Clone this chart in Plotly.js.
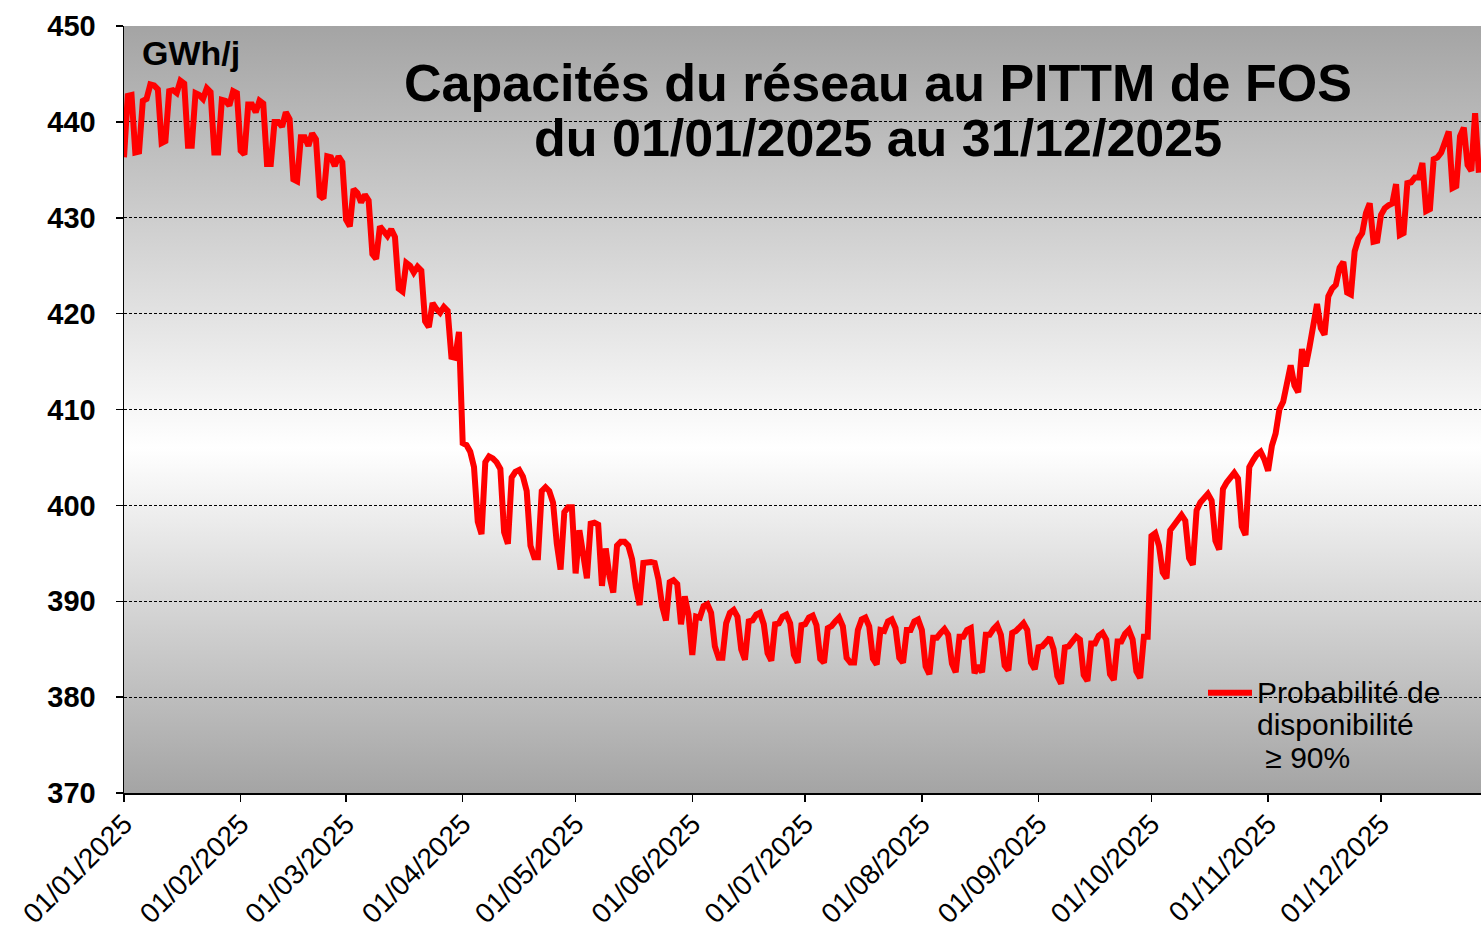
<!DOCTYPE html>
<html>
<head>
<meta charset="utf-8">
<script src="https://cdn.plot.ly/plotly-3.0.1.min.js"></script>
<style>
  html, body { margin: 0; padding: 0; background: #ffffff; }
  #chart { width: 1481px; height: 930px; }
</style>
</head>
<body>
<div id="chart"></div>
<script>
// Daily network capacity (GWh/j)
const jan = [436.3, 442.7, 442.8, 436.8, 436.9, 442.2, 442.4, 443.9, 443.8, 443.4, 437.8, 438.0, 443.2, 443.3, 443.0, 444.3, 444.0, 437.5, 437.5, 443.0, 442.8, 442.4, 443.5, 443.1, 436.8, 436.8, 442.3, 442.2, 441.7, 443.2, 443.0];
const feb = [437.0, 436.6, 441.8, 441.8, 441.0, 442.2, 441.9, 435.6, 435.6, 440.0, 440.0, 439.5, 441.0, 440.3, 434.0, 433.8, 438.4, 438.4, 437.5, 438.8, 438.2, 432.3, 432.0, 436.4, 436.3, 435.4, 436.4, 435.8];
const mar = [429.8, 429.1, 433.0, 432.6, 431.6, 432.4, 431.8, 426.2, 425.7, 429.1, 428.7, 428.1, 428.8, 428.0, 422.6, 422.3, 425.3, 425.0, 424.3, 424.9, 424.5, 419.2, 418.6, 421.1, 420.5, 420.1, 420.7, 420.3, 415.5, 415.4, 418.1];
const apr = [406.5, 406.3, 405.6, 404.0, 398.3, 397.0, 404.5, 405.1, 404.9, 404.5, 403.8, 397.2, 396.0, 402.9, 403.5, 403.7, 403.0, 401.5, 395.8, 394.6, 394.6, 401.5, 401.9, 401.5, 400.3, 396.0, 393.3, 399.3, 399.8, 399.8];
const may = [392.9, 397.4, 394.8, 392.4, 398.1, 398.2, 398.0, 391.6, 395.5, 392.6, 390.9, 395.8, 396.2, 396.2, 395.8, 394.4, 391.5, 389.6, 394.0, 394.1, 394.1, 394.0, 392.3, 389.5, 388.0, 392.0, 392.2, 391.8, 387.6, 390.5, 388.6];
const jun = [384.4, 388.4, 388.3, 389.5, 389.7, 388.8, 385.3, 384.1, 384.1, 387.7, 388.8, 389.1, 388.4, 385.0, 383.9, 387.9, 388.0, 388.6, 388.8, 387.6, 384.6, 383.8, 387.6, 387.7, 388.4, 388.6, 387.7, 384.4, 383.6, 387.5];
const jul = [387.6, 388.3, 388.5, 387.5, 384.0, 383.6, 387.2, 387.4, 387.9, 388.3, 387.4, 384.1, 383.6, 383.6, 387.0, 388.1, 388.3, 387.4, 384.0, 383.4, 387.0, 386.9, 387.9, 388.1, 387.2, 384.1, 383.6, 387.0, 387.0, 387.9, 388.1];
const aug = [387.0, 383.2, 382.4, 386.2, 386.2, 386.7, 387.1, 386.5, 383.5, 382.6, 386.3, 386.3, 387.0, 387.2, 382.5, 383.3, 382.6, 386.5, 386.5, 387.1, 387.5, 386.5, 383.3, 382.8, 386.7, 386.9, 387.4, 387.7, 387.0, 383.6, 382.9];
const sep = [385.2, 385.3, 385.8, 386.2, 385.0, 382.2, 381.4, 385.2, 385.3, 385.9, 386.3, 386.0, 382.3, 381.7, 385.6, 385.6, 386.4, 386.7, 386.0, 382.4, 381.8, 385.8, 385.8, 386.6, 387.0, 386.0, 382.7, 382.0, 386.3, 386.3];
const oct = [396.8, 397.1, 395.8, 393.0, 392.4, 397.4, 397.9, 398.5, 399.0, 398.4, 394.5, 393.8, 399.5, 400.3, 400.8, 401.2, 400.5, 396.3, 395.4, 401.7, 402.4, 403.0, 403.4, 402.8, 397.8, 396.9, 404.0, 404.7, 405.3, 405.6, 404.8];
const nov = [403.6, 406.2, 407.5, 410.0, 410.8, 413.0, 414.6, 412.5, 411.8, 416.3, 414.5, 416.5, 419.0, 421.0, 418.5, 417.8, 421.8, 422.6, 423.0, 424.8, 425.4, 422.2, 422.0, 426.5, 427.8, 428.4, 430.5, 431.5, 427.5, 427.6];
const dec = [430.3, 431.0, 431.3, 431.5, 433.5, 428.2, 428.4, 433.6, 433.7, 434.2, 434.2, 435.7, 430.7, 430.9, 436.1, 436.3, 436.8, 437.8, 439.0, 433.1, 433.3, 438.5, 439.4, 435.5, 434.9, 440.9, 434.7];

const months = [jan, feb, mar, apr, may, jun, jul, aug, sep, oct, nov, dec];
const monthTicks = ['2025-01-01','2025-02-01','2025-03-01','2025-04-01','2025-05-01','2025-06-01','2025-07-01','2025-08-01','2025-09-01','2025-10-01','2025-11-01','2025-12-01'];
const monthTickText = ['01/01/2025','01/02/2025','01/03/2025','01/04/2025','01/05/2025','01/06/2025','01/07/2025','01/08/2025','01/09/2025','01/10/2025','01/11/2025','01/12/2025'];
const yTicks = [370, 380, 390, 400, 410, 420, 430, 440, 450];

const legendLines = ['Probabilité de', 'disponibilité', '\u00a0≥ 90%'];
const titleLine1 = 'Capacités du réseau au PITTM de FOS';
const titleLine2 = 'du 01/01/2025 au 31/12/2025';
const unitLabel = 'GWh/j';

// Build daily dates from the monthly arrays
const dates = [];
const values = [];
months.forEach((arr, m) => {
  arr.forEach((v, i) => {
    const mm = String(m + 1).padStart(2, '0');
    const dd = String(i + 1).padStart(2, '0');
    dates.push('2025-' + mm + '-' + dd);
    values.push(v);
  });
});

const FONT = 'Liberation Sans, Arial, Helvetica, sans-serif';

const gradSvg = "<svg xmlns='http://www.w3.org/2000/svg' width='100' height='100' preserveAspectRatio='none'>" +
  "<defs><linearGradient id='g' x1='0' y1='0' x2='0' y2='1'>" +
  "<stop offset='0' stop-color='#a4a4a4'/>" +
  "<stop offset='0.55' stop-color='#ffffff'/>" +
  "<stop offset='1' stop-color='#a4a4a4'/>" +
  "</linearGradient></defs><rect width='100' height='100' fill='url(#g)'/></svg>";

const trace = {
  type: 'scatter',
  mode: 'lines',
  x: dates,
  y: values,
  name: legendLines.map(s => '<span style="font-size:30px">' + s + '</span>').join('<br>'),
  line: { color: '#ff0000', width: 6 },
  hoverinfo: 'x+y'
};

const layout = {
  width: 1481,
  height: 930,
  margin: { l: 124, r: 0, t: 26, b: 137, pad: 0 },
  paper_bgcolor: '#ffffff',
  plot_bgcolor: 'rgba(0,0,0,0)',
  font: { family: FONT, color: '#000000' },
  title: {
    text: titleLine1,
    font: { family: FONT, size: 52, weight: 'bold', color: '#000000' },
    xref: 'paper', x: 0.5556, xanchor: 'center',
    yref: 'container', y: (930 - 83) / 930, yanchor: 'middle'
  },
  annotations: [
    {
      text: titleLine2, xref: 'paper', yref: 'paper',
      x: 0.5556, y: (793 - 138) / 767, xanchor: 'center', yanchor: 'middle',
      showarrow: false,
      font: { family: FONT, size: 52, weight: 'bold', color: '#000000' }
    },
    {
      text: unitLabel, xref: 'paper', yref: 'paper',
      x: (140 - 124) / 1357, y: (793 - 53) / 767, xanchor: 'left', yanchor: 'middle',
      showarrow: false,
      font: { family: FONT, size: 34, weight: 'bold', color: '#000000' }
    }
  ],
  images: [{
    source: 'data:image/svg+xml;charset=utf-8,' + encodeURIComponent(gradSvg),
    xref: 'paper', yref: 'paper', x: 0, y: 1, sizex: 1, sizey: 1,
    xanchor: 'left', yanchor: 'top', sizing: 'stretch', layer: 'below'
  }],
  xaxis: {
    type: 'date',
    range: ['2025-01-01', '2025-12-27 13:40'],
    tickmode: 'array',
    tickvals: monthTicks,
    ticktext: monthTickText,
    tickangle: -45,
    ticks: 'outside', ticklen: 7, tickwidth: 1.5, tickcolor: '#000000',
    ticklabelstandoff: -5,
    tickfont: { family: FONT, size: 28, color: '#000000' },
    showgrid: false,
    showline: true, linecolor: '#000000', linewidth: 1.5,
    zeroline: false,
    fixedrange: true
  },
  yaxis: {
    range: [370, 450],
    tickmode: 'array',
    tickvals: yTicks,
    ticks: 'outside', ticklen: 7, tickwidth: 1.5, tickcolor: '#000000',
    ticklabelstandoff: 14,
    tickfont: { family: FONT, size: 29, weight: 'bold', color: '#000000' },
    showgrid: true, gridcolor: '#000000', gridwidth: 1, griddash: '3px,2px',
    showline: true, linecolor: '#000000', linewidth: 1.5,
    zeroline: false,
    fixedrange: true
  },
  showlegend: true,
  legend: {
    xref: 'paper', yref: 'paper',
    x: (1203 - 124) / 1357, y: (793 - 670) / 767,
    xanchor: 'left', yanchor: 'top',
    bgcolor: 'rgba(0,0,0,0)', borderwidth: 0,
    valign: 'top',
    itemwidth: 44,
    font: { family: FONT, size: 25, color: '#000000' }
  }
};

Plotly.newPlot('chart', [trace], layout, { displayModeBar: false, staticPlot: true });
</script>
</body>
</html>
